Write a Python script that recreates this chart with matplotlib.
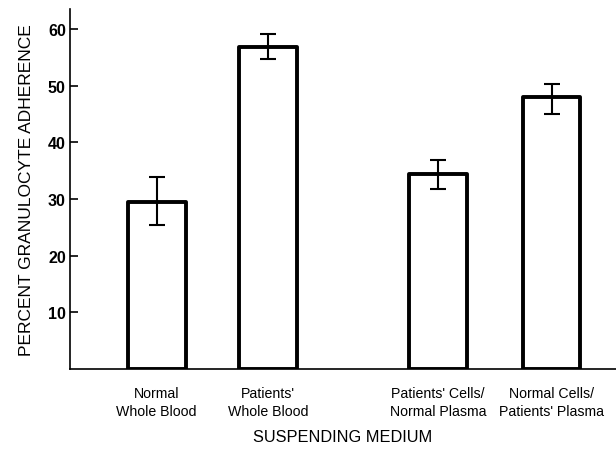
import matplotlib.pyplot as plt

# data
labels = ["Normal\nWhole Blood", "Patients'\nWhole Blood",
          "Patients' Cells/\nNormal Plasma", "Normal Cells/\nPatients' Plasma"]
means = [29.5, 56.8, 34.4, 47.9]
err_hi = [33.9, 59.1, 36.8, 50.2]
err_lo = [25.4, 54.6, 31.8, 44.9]
positions = [0, 1, 2.53, 3.55]

yerr = [[m - lo for m, lo in zip(means, err_lo)],
        [hi - m for m, hi in zip(means, err_hi)]]

plt.rcParams['font.family'] = ['Liberation Sans', 'DejaVu Sans']

fig = plt.figure(figsize=(6.16, 4.52), dpi=100)
ax = fig.add_axes([70 / 616, 82 / 452, 546 / 616, 360 / 452])

ax.bar(positions, means, width=0.52, facecolor='white', edgecolor='black',
       linewidth=2.8, joinstyle='round')
ax.errorbar(positions, means, yerr=yerr, fmt='none', ecolor='black',
            elinewidth=1.5, capsize=6, capthick=1.5)

ax.set_xlim(-0.78, 4.13)
ax.set_ylim(0, 63.5)
ax.set_yticks([10, 20, 30, 40, 50, 60])
ax.tick_params(axis='y', direction='in', length=6, width=1.2, labelsize=11.5, pad=3)
for t in ax.get_yticklabels():
    t.set_fontweight('semibold')
ax.set_xticks(positions)
ax.set_xticklabels(labels, fontsize=10.2, linespacing=1.4)
ax.tick_params(axis='x', length=0, pad=12)

for side in ['top', 'right']:
    ax.spines[side].set_visible(False)
for side in ['left', 'bottom']:
    ax.spines[side].set_linewidth(1.2)

ax.set_ylabel("PERCENT GRANULOCYTE ADHERENCE", fontsize=12.5, labelpad=10)
ax.set_xlabel("SUSPENDING MEDIUM", fontsize=11.8, labelpad=8)

fig.savefig("out.png", dpi=100)
